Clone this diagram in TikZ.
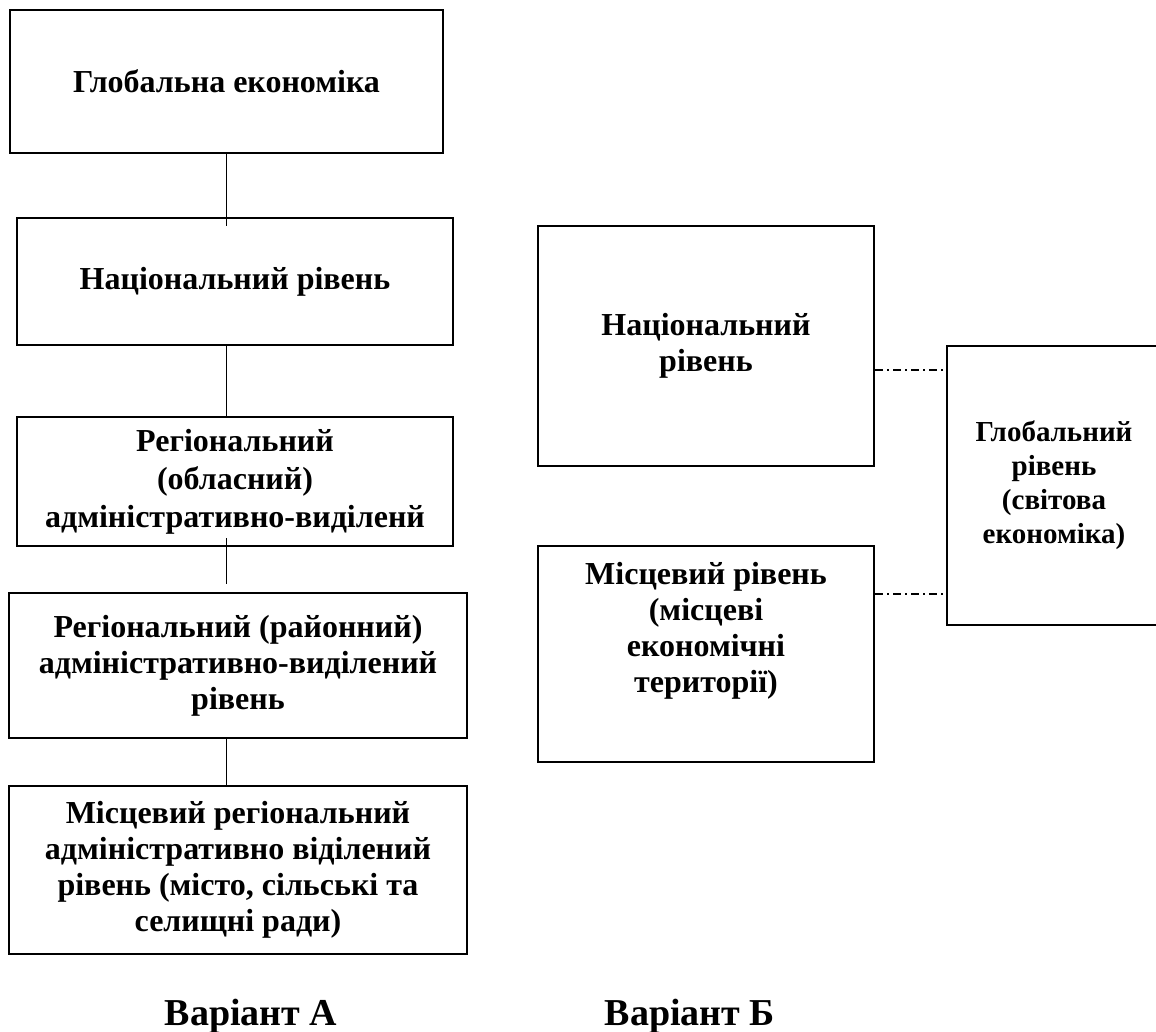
\documentclass[tikz,border=0pt]{standalone}
\usepackage{fontspec}
\setmainfont{Liberation Serif}

\begin{document}
\begin{tikzpicture}[x=1pt, y=1pt,
node distance=200pt,
box/.style={draw, line width=2pt, rectangle, align=center, inner sep=0pt, font=\fontsize{32}{36}\selectfont\bfseries},
boxtext/.style={align=center, inner sep=0pt, font=\fontsize{32}{36}\selectfont\bfseries},
link/.style={line width=1.7pt},
dashlink/.style={line width=1.5pt, dash pattern=on 8pt off 4pt on 2pt off 4pt},
caption/.style={font=\fontsize{38}{44}\selectfont\bfseries}]

\useasboundingbox (0,0) rectangle (1156,-1032);

% variant A
\node[box, minimum width=433pt, minimum height=143pt] (g1) at (226.5,-81.5) {Глобальна економіка};
\node[box, minimum width=436pt, minimum height=127pt] (n1) [below of=g1, xshift=8.5pt] {Національний рівень};
\node[box, minimum width=436pt, minimum height=129pt, font=\fontsize{32}{38}\selectfont\bfseries] (r1) [below of=n1] {Регіональний\\(обласний)\\адміністративно-виділенй};
\node[box, minimum width=458pt, minimum height=145pt] (r2) [below of=r1, xshift=3pt, yshift=16pt] {Регіональний (районний)\\адміністративно-виділений\\рівень};
\node[box, minimum width=458pt, minimum height=168pt] (m1) [below of=r2, yshift=-4.5pt] {Місцевий регіональний\\адміністративно віділений\\рівень (місто, сільські та\\селищні ради)};

% variant B
\node[box, minimum width=336pt, minimum height=240pt] (n2) [right of=n1, xshift=271pt, yshift=-64.5pt] {Національний\\рівень};
\node[box, minimum width=336pt, minimum height=216pt,
label={[boxtext, anchor=north, yshift=-17pt]north:{Місцевий рівень\\(місцеві\\економічні\\території)}}] (m2) [below of=n2, yshift=-108pt] {};
\node[box, minimum width=214pt, minimum height=279pt, font=\fontsize{29}{34}\selectfont\bfseries] (g2) [right of=n2, xshift=148pt, yshift=-139.5pt] {Глобальний\\рівень\\(світова\\економіка)};

\draw[link] (g1.south) -- ([yshift=-9pt]g1.south |- n1.north);
\draw[link] (g1.south |- n1.south) -- (g1.south |- r1.north);
\draw[link] ([yshift=9pt]g1.south |- r1.south) -- ([yshift=8pt]g1.south |- r2.north);
\draw[link] (g1.south |- r2.south) -- (g1.south |- m1.north);

\draw[dashlink] ([yshift=-24pt]n2.east) -- ([yshift=-24pt]n2.east -| g2.west);
\draw[dashlink] ([yshift=60pt]m2.east) -- ([yshift=60pt]m2.east -| g2.west);

\node[caption, anchor=base] (va) at (251,-1025) {Варіант А};
\node[caption, anchor=base] (vb) at (690,-1025) {Варіант Б};

\end{tikzpicture}
\end{document}
